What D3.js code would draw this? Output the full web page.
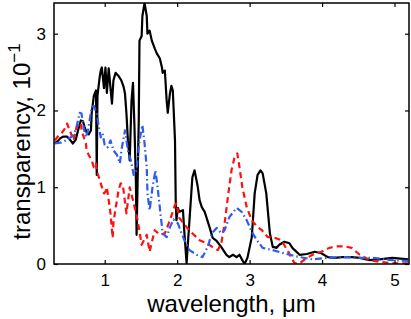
<!DOCTYPE html>
<html>
<head>
<meta charset="utf-8">
<script src="https://cdn.jsdelivr.net/npm/d3@7"></script>
<style>
  body { margin: 0; background: #fff; }
  svg { display: block; font-family: "Liberation Sans", Arial, Helvetica, sans-serif; }
  .axis text { font-size: 17px; fill: #000; }
  .axis line { stroke: #000; stroke-width: 1.2; }
  .axis path { display: none; }
</style>
</head>
<body>
<svg id="chart" width="411" height="319"></svg>
<script>
// wavelength (um) / transparency (x 10^-1)
const blackX = [0.31, 0.35, 0.39, 0.43, 0.48, 0.52, 0.56, 0.60, 0.64, 0.67, 0.70, 0.72, 0.75, 0.78, 0.81, 0.82, 0.85, 0.88, 0.89, 0.90,
  0.93, 0.945, 0.96, 0.99, 1.01, 1.03, 1.055, 1.08, 1.10, 1.12, 1.15, 1.19, 1.23, 1.26, 1.28, 1.30, 1.32, 1.345, 1.37, 1.39,
  1.41, 1.43, 1.44, 1.47, 1.48, 1.51, 1.52, 1.55, 1.58, 1.59, 1.62, 1.65, 1.69, 1.72, 1.76, 1.79, 1.80, 1.83, 1.855, 1.87,
  1.90, 1.92, 1.94, 1.97, 1.98, 1.99, 2.01, 2.03, 2.08, 2.10, 2.13, 2.17, 2.21, 2.24, 2.28, 2.31, 2.34, 2.38, 2.45, 2.49,
  2.545, 2.61, 2.68, 2.72, 2.77, 2.82, 2.86, 2.90, 2.93, 2.97, 3.03, 3.07, 3.11, 3.15, 3.18, 3.23, 3.28, 3.32, 3.34, 3.37,
  3.41, 3.48, 3.55, 3.59, 3.69, 3.79, 3.90, 3.99, 4.08, 4.17, 4.28, 4.41, 4.52, 4.66, 4.79, 4.97, 5.19];
const blackY = [1.57, 1.60, 1.64, 1.66, 1.66, 1.62, 1.57, 1.62, 1.77, 1.87, 1.86, 1.79, 1.71, 1.69, 1.74, 1.96, 2.19, 2.26, 1.16, 2.19,
  2.43, 2.52, 2.56, 2.29, 2.56, 2.23, 2.55, 2.29, 2.09, 2.39, 2.49, 2.45, 2.39, 2.31, 2.22, 1.96, 1.61, 1.35, 2.13, 2.36,
  1.81, 1.09, 0.38, 1.87, 2.91, 2.97, 3.23, 3.40, 3.23, 3.00, 3.04, 2.91, 2.81, 2.74, 2.68, 2.56, 2.49, 2.52, 2.13, 1.97,
  2.22, 2.32, 2.26, 1.61, 0.83, 0.57, 0.73, 0.68, 0.70, 0.40, 0.01, 0.57, 1.13, 1.22, 1.03, 0.83, 0.74, 0.68, 0.47, 0.34,
  0.30, 0.22, 0.12, 0.09, 0.12, 0.09, 0.12, 0.05, 0.00, 0.08, 0.35, 0.92, 1.16, 1.22, 1.18, 0.92, 0.40, 0.22, 0.22, 0.21,
  0.25, 0.29, 0.27, 0.21, 0.12, 0.13, 0.16, 0.14, 0.09, 0.08, 0.09, 0.09, 0.08, 0.05, 0.06, 0.08, 0.06];

const redX = [0.31, 0.37, 0.41, 0.46, 0.48, 0.53, 0.57, 0.61, 0.67, 0.68, 0.74, 0.75, 0.78, 0.82, 0.85, 0.88, 0.89, 0.945, 0.99, 1.01,
  1.03, 1.055, 1.08, 1.10, 1.11, 1.12, 1.15, 1.17, 1.19, 1.22, 1.25, 1.30, 1.345, 1.39, 1.455, 1.51, 1.58, 1.62, 1.69, 1.76,
  1.83, 1.90, 1.97, 1.99, 2.03, 2.13, 2.21, 2.31, 2.41, 2.49, 2.56, 2.61, 2.655, 2.70, 2.75, 2.79, 2.83, 2.86, 2.90, 2.96,
  3.03, 3.10, 3.17, 3.25, 3.32, 3.44, 3.52, 3.62, 3.69, 3.79, 3.87, 3.99, 4.10, 4.21, 4.31, 4.41, 4.52, 4.66, 4.79, 4.97, 5.19];
const redY = [1.61, 1.68, 1.71, 1.78, 1.83, 1.71, 1.61, 1.78, 1.84, 1.74, 1.57, 1.48, 1.42, 1.35, 1.26, 1.31, 1.22, 1.05, 0.92, 0.94,
  1.00, 0.83, 0.66, 0.44, 0.34, 0.53, 0.73, 0.83, 0.96, 1.05, 1.03, 0.66, 1.00, 0.83, 0.57, 0.25, 0.38, 0.16, 0.44, 0.38,
  0.40, 0.57, 0.77, 0.79, 0.60, 0.48, 0.40, 0.31, 0.27, 0.22, 0.18, 0.27, 0.53, 0.87, 1.22, 1.38, 1.44, 1.26, 1.00, 0.74,
  0.57, 0.49, 0.44, 0.35, 0.35, 0.31, 0.18, 0.01, 0.01, 0.08, 0.12, 0.16, 0.21, 0.23, 0.23, 0.21, 0.12, 0.05, 0.03, 0.01, 0.01];

const blueX = [0.31, 0.39, 0.46, 0.53, 0.57, 0.61, 0.655, 0.68, 0.71, 0.74, 0.77, 0.82, 0.85, 0.89, 0.92, 0.945, 0.97, 1.00, 1.04, 1.08,
  1.12, 1.17, 1.21, 1.23, 1.28, 1.32, 1.36, 1.40, 1.44, 1.48, 1.52, 1.55, 1.58, 1.59, 1.62, 1.66, 1.70, 1.73, 1.76, 1.80,
  1.855, 1.90, 1.95, 2.01, 2.06, 2.10, 2.17, 2.27, 2.35, 2.42, 2.48, 2.545, 2.61, 2.655, 2.72, 2.82, 2.89, 2.96, 3.03, 3.10,
  3.18, 3.32, 3.51, 3.69, 3.87, 4.06, 4.28, 4.52, 4.70, 4.97, 5.19];
const blueY = [1.57, 1.58, 1.61, 1.65, 1.68, 1.78, 1.97, 1.96, 1.77, 1.65, 1.74, 2.04, 2.06, 1.96, 1.78, 1.65, 1.70, 1.55, 1.52, 1.61,
  1.48, 1.42, 1.31, 1.48, 1.74, 1.48, 1.35, 1.16, 1.22, 1.61, 1.81, 1.57, 1.26, 0.92, 0.70, 1.00, 1.22, 1.00, 0.74, 0.40,
  0.35, 0.48, 0.58, 0.53, 0.40, 0.31, 0.18, 0.12, 0.09, 0.22, 0.40, 0.47, 0.40, 0.44, 0.61, 0.73, 0.68, 0.57, 0.42, 0.31,
  0.21, 0.18, 0.13, 0.09, 0.06, 0.08, 0.09, 0.08, 0.08, 0.05, 0.04];

const xTicks = [1, 2, 3, 4, 5];
const yTicks = [0, 1, 2, 3];

const series = [
  { xs: blackX, ys: blackY, color: '#000000', dash: null },
  { xs: redX, ys: redY, color: '#ff1010', dash: '6,4' },
  { xs: blueX, ys: blueY, color: '#2f5cf0', dash: '7,3,1.5,3' }
];

const plotLeft = 54, plotRight = 409, plotTop = 3, plotBottom = 264;

const x = d3.scaleLinear().domain([0.3, 5.2]).range([plotLeft, plotRight]);
const y = d3.scaleLinear().domain([0, 3.4]).range([plotBottom, plotTop]);

const svg = d3.select('#chart');

svg.append('clipPath')
  .attr('id', 'clip')
  .append('rect')
  .attr('x', plotLeft)
  .attr('y', plotTop)
  .attr('width', plotRight - plotLeft)
  .attr('height', plotBottom - plotTop);

const line = d3.line()
  .x(d => x(d[0]))
  .y(d => y(d[1]));

const plot = svg.append('g').attr('clip-path', 'url(#clip)');

series.forEach(s => {
  plot.append('path')
    .datum(s.xs.map((v, i) => [v, s.ys[i]]))
    .attr('fill', 'none')
    .attr('stroke', s.color)
    .attr('stroke-width', 2.2)
    .attr('stroke-linejoin', 'round')
    .attr('stroke-dasharray', s.dash)
    .attr('d', line);
});

// axes, ticks pointing inward on all four sides
svg.append('g')
  .attr('class', 'axis')
  .attr('transform', `translate(0, ${ plotBottom })`)
  .call(d3.axisBottom(x).tickValues(xTicks).tickSizeInner(-4).tickSizeOuter(0).tickPadding(10).tickFormat(d3.format('d')));

svg.append('g')
  .attr('class', 'axis')
  .attr('transform', `translate(${ plotLeft }, 0)`)
  .call(d3.axisLeft(y).tickValues(yTicks).tickSizeInner(-4).tickSizeOuter(0).tickPadding(8).tickFormat(d3.format('d')));

svg.append('g')
  .attr('class', 'axis')
  .attr('transform', `translate(0, ${ plotTop })`)
  .call(d3.axisTop(x).tickValues(xTicks).tickSizeInner(-4).tickSizeOuter(0).tickFormat(''));

svg.append('g')
  .attr('class', 'axis')
  .attr('transform', `translate(${ plotRight }, 0)`)
  .call(d3.axisRight(y).tickValues(yTicks).tickSizeInner(-4).tickSizeOuter(0).tickFormat(''));

svg.append('rect')
  .attr('x', plotLeft)
  .attr('y', plotTop)
  .attr('width', plotRight - plotLeft)
  .attr('height', plotBottom - plotTop)
  .attr('fill', 'none')
  .attr('stroke', '#000')
  .attr('stroke-width', 1.5);

// axis labels
svg.append('text')
  .attr('x', (plotLeft + plotRight) / 2)
  .attr('y', 312)
  .attr('text-anchor', 'middle')
  .attr('font-size', 24)
  .text('wavelength, \u03bcm');

const yLabel = svg.append('text')
  .attr('transform', `translate(30, ${ (plotTop + plotBottom) / 2 + 8 }) rotate(-90)`)
  .attr('text-anchor', 'middle')
  .attr('font-size', 24);
yLabel.append('tspan').text('transparency, 10');
yLabel.append('tspan')
  .attr('font-size', 17)
  .attr('dy', -10)
  .text('\u22121');
</script>
</body>
</html>
